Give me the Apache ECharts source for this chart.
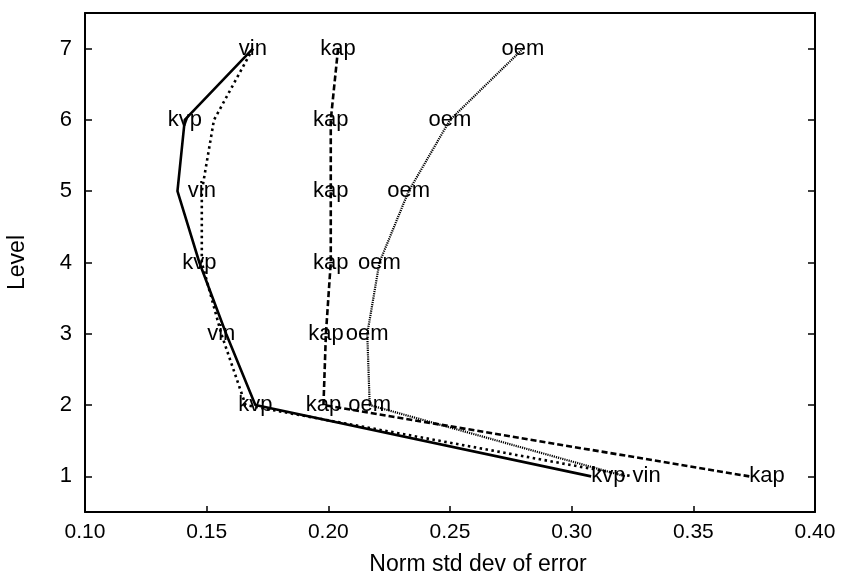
<!DOCTYPE html>
<html>
<head>
<meta charset="utf-8">
<script src="https://cdn.jsdelivr.net/npm/echarts@6/dist/echarts.min.js"></script>
<style>html,body{margin:0;padding:0;background:#fff;}#c{width:842px;height:583px;}</style>
</head>
<body>
<div id="c"></div>
<script>
// ---- data ----
const levels = [7, 6, 5, 4, 3, 2, 1];
const kvp = [0.169, 0.141, 0.138, 0.147, 0.158, 0.170, 0.308];
const vin = [0.169, 0.153, 0.148, 0.148, 0.156, 0.166, 0.325];
const kap = [0.204, 0.201, 0.201, 0.201, 0.199, 0.198, 0.373];
const oem = [0.280, 0.250, 0.233, 0.221, 0.216, 0.217, 0.322];
// which points carry a text label
const kvpLabelShown = [false, true, false, true, false, true, true];
const vinLabelShown = [true, false, true, false, true, false, true];
const kapLabelShown = [true, true, true, true, true, true, true];
const oemLabelShown = [true, true, true, true, true, true, false];
const xTicks = [0.10, 0.15, 0.20, 0.25, 0.30, 0.35, 0.40];
const yTicks = [1, 2, 3, 4, 5, 6, 7];
const xTitle = 'Norm std dev of error';
const yTitle = 'Level';

const FONT = 'Liberation Sans';
const chart = echarts.init(document.getElementById('c'), null, {renderer: 'canvas'});

function pairs(xs) { return xs.map((x, i) => [x, levels[i]]); }
function labelPoints(xs, shown, name) {
  const out = [];
  xs.forEach((x, i) => {
    if (!shown[i]) return;
    const lastLevel = levels[i] === 1;
    out.push({
      value: [x, levels[i]],
      label: {
        show: true,
        formatter: name,
        position: lastLevel ? 'right' : 'inside',
        distance: 0,
        align: lastLevel ? 'left' : 'center',
        verticalAlign: 'middle',
        color: '#000',
        textBorderWidth: 0,
        fontFamily: FONT,
        fontSize: 22
      }
    });
  });
  return out;
}
function lineSeries(name, xs, style) {
  return {
    type: 'line', name: name, data: pairs(xs), showSymbol: false, symbol: 'none',
    lineStyle: Object.assign({color: '#000'}, style), z: 2, silent: true, animation: false
  };
}
function labelSeries(name, xs, shown) {
  return {
    type: 'scatter', data: labelPoints(xs, shown, name), symbolSize: 0.1,
    itemStyle: {color: 'rgba(0,0,0,0)', opacity: 1},
    label: {color: '#000', fontFamily: FONT, fontSize: 22, textBorderWidth: 0},
    z: 5, silent: true, animation: false
  };
}

const axisLineStyle = {show: true, lineStyle: {color: '#000', width: 2}};
const option = {
  backgroundColor: '#fff',
  animation: false,
  grid: {left: 85, right: 27, top: 13, bottom: 71, outerBoundsMode: 'none', containLabel: false},
  xAxis: [{
    type: 'value', min: xTicks[0], max: xTicks[xTicks.length - 1], interval: 0.05,
    position: 'bottom',
    axisLine: axisLineStyle,
    axisTick: {show: true, inside: true, length: 6, lineStyle: {color: '#000', width: 1.5}},
    axisLabel: {color: '#000', fontFamily: FONT, fontSize: 21, margin: 10,
      formatter: v => v.toFixed(2)},
    splitLine: {show: false},
    name: xTitle, nameLocation: 'middle', nameGap: 41,
    nameTextStyle: {color: '#000', fontFamily: FONT, fontSize: 23, padding: [0, 0, 0, 56]}
  }, {
    type: 'value', min: xTicks[0], max: xTicks[xTicks.length - 1], interval: 0.05,
    position: 'top',
    axisLine: axisLineStyle,
    axisTick: {show: false},
    axisLabel: {show: false},
    splitLine: {show: false}
  }],
  yAxis: [{
    type: 'value', min: 0.5, max: 7.5,
    position: 'left',
    axisLine: axisLineStyle,
    axisTick: {show: true, inside: true, length: 7, customValues: yTicks,
      lineStyle: {color: '#000', width: 1.5}},
    axisLabel: {color: '#000', fontFamily: FONT, fontSize: 22, margin: 13, customValues: yTicks},
    splitLine: {show: false},
    name: yTitle, nameLocation: 'middle', nameGap: 56, nameRotate: 90,
    nameTextStyle: {color: '#000', fontFamily: FONT, fontSize: 23}
  }, {
    type: 'value', min: 0.5, max: 7.5,
    position: 'right',
    axisLine: axisLineStyle,
    axisTick: {show: true, inside: true, length: 7, customValues: yTicks,
      lineStyle: {color: '#000', width: 1.5}},
    axisLabel: {show: false},
    splitLine: {show: false}
  }],
  series: [
    lineSeries('kvp', kvp, {width: 2.6, type: 'solid'}),
    lineSeries('vin', vin, {width: 2.6, type: [2.5, 3.5], cap: 'butt'}),
    lineSeries('kap', kap, {width: 2.6, type: [6, 3]}),
    lineSeries('oem', oem, {width: 2.2, type: [1.2, 1], color: '#000'}),
    labelSeries('kvp', kvp, kvpLabelShown),
    labelSeries('vin', vin, vinLabelShown),
    labelSeries('kap', kap, kapLabelShown),
    labelSeries('oem', oem, oemLabelShown)
  ]
};
chart.setOption(option);
</script>
</body>
</html>
